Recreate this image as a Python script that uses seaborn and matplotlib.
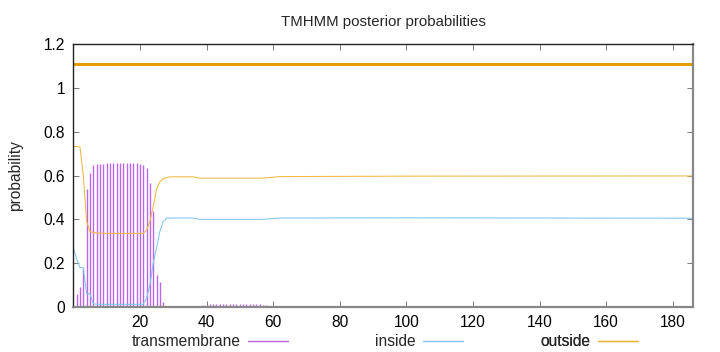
import matplotlib
matplotlib.use("Agg")
import matplotlib.pyplot as plt
import seaborn as sns
from matplotlib.lines import Line2D

# Sequence length and plotted range
seq_len = 186

# Transmembrane posterior probability (impulses), residue -> value
tm_pos = list(range(1, 29)) + list(range(37, 61))
tm_prob = [0.06, 0.093, 0.178, 0.54, 0.61, 0.648, 0.651, 0.653, 0.654, 0.655,
           0.656, 0.656, 0.656, 0.656, 0.656, 0.656, 0.656, 0.656, 0.655, 0.653,
           0.648, 0.636, 0.567, 0.44, 0.146, 0.115, 0.025, 0.005,
           0.003, 0.005, 0.008, 0.011, 0.013, 0.013, 0.013, 0.013, 0.013, 0.013,
           0.013, 0.013, 0.013, 0.013, 0.013, 0.013, 0.013, 0.013, 0.013, 0.012,
           0.011, 0.009, 0.006, 0.003]

# Inside / outside curves (points where the curve changes)
curve_pos = [0, 1, 2, 3, 4, 5, 6, 7, 10, 21, 22, 23, 24, 25, 26, 27, 28, 29,
             36, 38, 57, 62, 100, 186]
inside_prob = [0.27, 0.22, 0.18, 0.18, 0.06, 0.06, 0.015, 0.012, 0.012, 0.012,
               0.04, 0.10, 0.20, 0.27, 0.345, 0.39, 0.405, 0.406,
               0.406, 0.40, 0.40, 0.406, 0.407, 0.405]
outside_prob = [0.732, 0.732, 0.73, 0.60, 0.39, 0.345, 0.34, 0.338, 0.336, 0.336,
                0.35, 0.39, 0.46, 0.537, 0.572, 0.585, 0.59, 0.594,
                0.594, 0.588, 0.588, 0.595, 0.597, 0.598]

# Predicted topology line
topo_pos = [0, 186]
topo_level = 1.11

yticks = [0, 0.2, 0.4, 0.6, 0.8, 1.0, 1.2]
ytick_labels = ["0", "0.2", "0.4", "0.6", "0.8", "1", "1.2"]
xticks = [20, 40, 60, 80, 100, 120, 140, 160, 180]

c_tm = "#b866e8"
c_in = "#80c6ee"
c_out = "#f2b840"

sns.set_theme(style="ticks")
plt.rcParams['font.family'] = ['Liberation Sans', 'DejaVu Sans']

fig = plt.figure(figsize=(7.2, 3.52), dpi=100)
ax = fig.add_axes([73.3 / 720, 45 / 352, (692.7 - 73.3) / 720, (307 - 44) / 352])

ax.vlines(tm_pos, 0, tm_prob, color=c_tm, lw=1.0)
sns.lineplot(x=curve_pos, y=inside_prob, ax=ax, color=c_in, lw=0.75)
sns.lineplot(x=curve_pos, y=outside_prob, ax=ax, color=c_out, lw=0.75)
ax.plot(topo_pos, [topo_level] * len(topo_pos), color="#e69f00", lw=2.2,
        solid_capstyle="butt")

ax.set_xlim(0, seq_len)
ax.set_ylim(0, 1.2)
ax.set_yticks(yticks)
ax.set_yticklabels(ytick_labels)
ax.set_xticks(xticks)
ax.tick_params(direction="in", length=4, width=0.6, labelsize=11.2,
               top=True, right=True, colors="#666666", labelcolor="black", pad=6)
ax.set_ylabel("probability", fontsize=11.2, labelpad=15)
ax.set_title("TMHMM posterior probabilities", fontsize=10.8, pad=13)

for side in ["left", "top"]:
    ax.spines[side].set_color("#222222")
    ax.spines[side].set_linewidth(1.0)
for side in ["bottom", "right"]:
    ax.spines[side].set_color("#888888")
    ax.spines[side].set_linewidth(1.6)

# legend: three entries along the bottom, text before sample
entries = [("transmembrane", c_tm, 288), ("inside", c_in, 463), ("outside", c_out, 638)]
for label, col, xend in entries:
    h = Line2D([], [], color=col, lw=1.0)
    leg = ax.legend(handles=[h], labels=[label], loc="center right",
                    bbox_to_anchor=(xend / 720, 10.5 / 352),
                    bbox_transform=fig.transFigure, frameon=False,
                    markerfirst=False, handlelength=2.6, handletextpad=0.45,
                    borderpad=0, borderaxespad=0, fontsize=11.2)
    ax.add_artist(leg)

fig.savefig("out.png", dpi=100)
